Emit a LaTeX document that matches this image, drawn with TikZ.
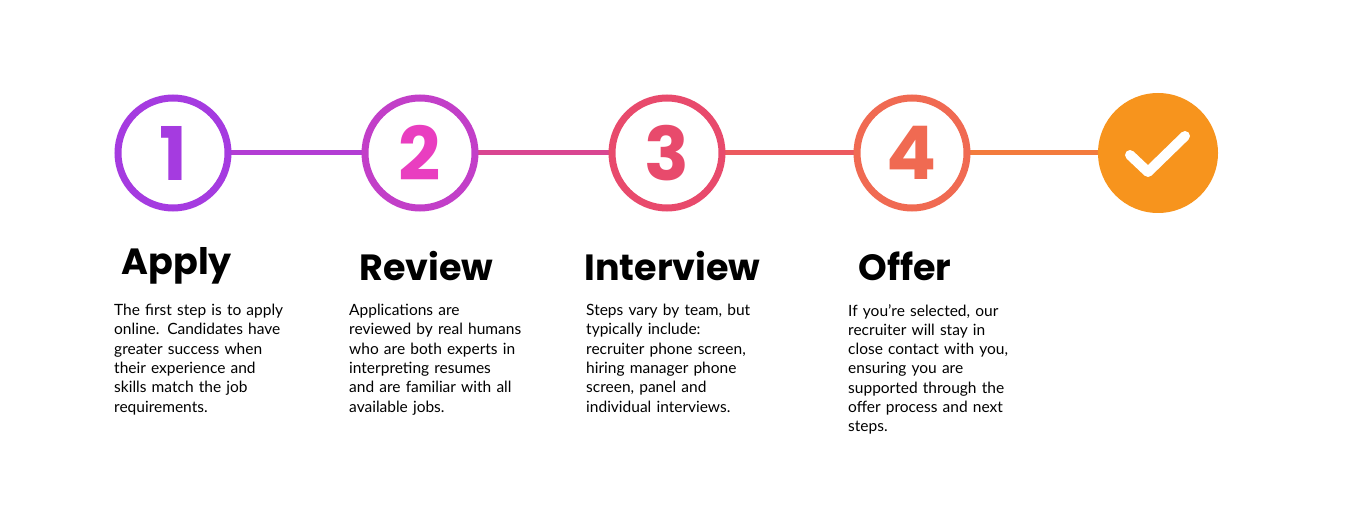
\documentclass[tikz,border=0pt]{standalone}
\usepackage{fontspec}
\setmainfont{Lato}
\newfontfamily\titlefont{Poppins}
\definecolor{cA}{HTML}{A53BE0}
\definecolor{cB}{HTML}{C23FC8}
\definecolor{cBn}{HTML}{E93EC0}
\definecolor{cC}{HTML}{E84A6C}
\definecolor{cD}{HTML}{F06A52}
\definecolor{cE}{HTML}{F7941D}
\tikzset{
  ring/.style={circle,draw=#1,fill=white,line width=7pt,minimum size=110pt,inner sep=0pt},
  num/.style={font=\titlefont\bfseries\fontsize{74}{74}\selectfont,text=#1},
  ttl/.style={anchor=west,font=\titlefont\bfseries\fontsize{36.5}{40}\selectfont},
  body/.style={anchor=north west,align=left,text width=175pt,font=\fontsize{15.5}{19.3}\selectfont,inner sep=0pt},
  conn/.style={line width=5pt}
}
\begin{document}
\begin{tikzpicture}[x=1pt,y=-1pt]
\useasboundingbox (0,0) rectangle (1366,505);
\coordinate (p1) at (173,153);
\coordinate (p2) at (420,153);
\coordinate (p3) at (667,153);
\coordinate (p4) at (912,153);
\coordinate (p5) at (1158,153);
\draw[conn,draw=cA!50!cB] (p1) -- (p2);
\draw[conn,draw=cB!40!cC] (p2) -- (p3);
\draw[conn,draw=cC!50!cD] (p3) -- (p4);
\draw[conn,draw=cD!60!cE] (p4) -- (p5);
\node[ring=cA] (c1) at (p1) {};\node[num=cA] at (c1) {1};
\node[ring=cB] (c2) at (p2) {};\node[num=cBn] at (c2) {2};
\node[ring=cC] (c3) at (p3) {};\node[num=cC] at (c3) {3};
\node[ring=cD] (c4) at (p4) {};\node[num=cD] at (c4) {4};
\node[circle,fill=cE,minimum size=120pt,inner sep=0pt] (c5) at (p5) {};
\draw[white,line width=10pt,line cap=round,line join=round] (1130,155) -- (1148,172) -- (1185,136);
\node[ttl] (t1) at (118,266) {Apply};
\node[ttl] (t2) at (356,266) {Review};
\node[ttl] (t3) at (581,266) {Interview};
\node[ttl] (t4) at (855,266) {Offer};
\node[body] (b1) at (114,304) {The first step is to apply\\online. Candidates have\\greater success when\\their experience and\\skills match the job\\requirements.};
\node[body] (b2) at (349,304) {Applications are\\reviewed by real humans\\who are both experts in\\interpreting resumes\\and are familiar with all\\available jobs.};
\node[body] (b3) at (586,304) {Steps vary by team, but\\typically include:\\recruiter phone screen,\\hiring manager phone\\screen, panel and\\individual interviews.};
\node[body] (b4) at (848,304) {If you're selected, our\\recruiter will stay in\\close contact with you,\\ensuring you are\\supported through the\\offer process and next\\steps.};
\end{tikzpicture}
\end{document}
